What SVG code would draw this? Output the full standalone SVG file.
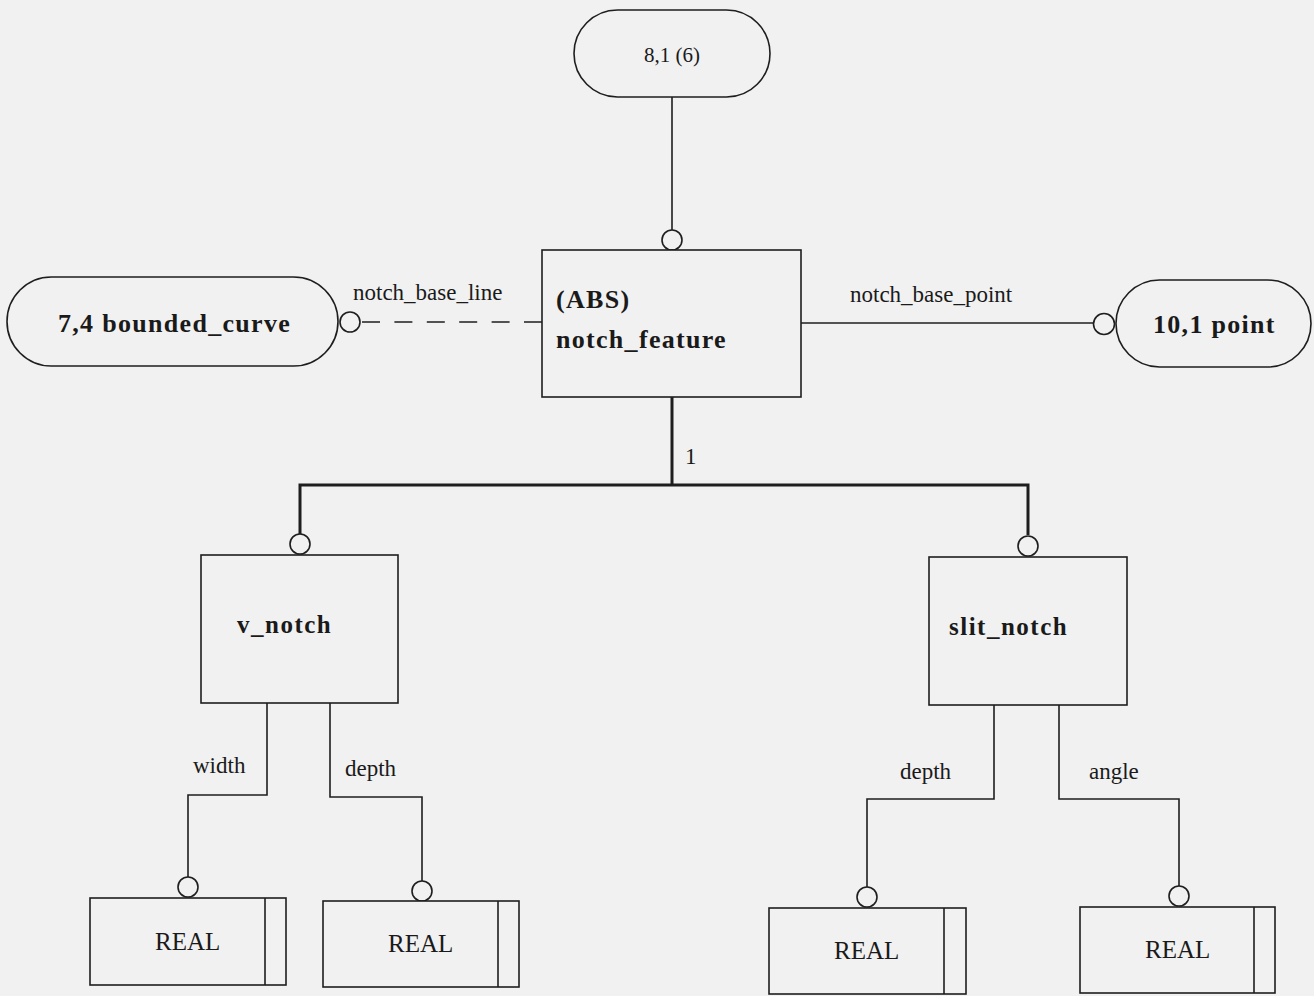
<svg xmlns="http://www.w3.org/2000/svg" width="1314" height="996" viewBox="0 0 1314 996">
  <style>
    .bg { fill: #f1f1f1; }
    .box { fill: #f1f1f1; stroke: #1e1e1e; stroke-width: 1.6; }
    .ln { fill: none; stroke: #1e1e1e; stroke-width: 1.6; }
    .thick { fill: none; stroke: #1e1e1e; stroke-width: 3; }
    .dash { fill: none; stroke: #1e1e1e; stroke-width: 1.6; stroke-dasharray: 18 14.4; }
    .ring { fill: #f1f1f1; stroke: #1e1e1e; stroke-width: 1.6; }
    .title { font-family: "Liberation Serif", "Times New Roman", serif; font-weight: bold; font-size: 26px; letter-spacing: 1.3px; fill: #1a1a1a; }
    .sub { font-family: "Liberation Serif", "Times New Roman", serif; font-weight: bold; font-size: 25px; letter-spacing: 1.5px; fill: #1a1a1a; }
    .lbl { font-family: "Liberation Serif", "Times New Roman", serif; font-size: 23px; fill: #1a1a1a; }
    .real { font-family: "Liberation Serif", "Times New Roman", serif; font-size: 25px; fill: #1a1a1a; }
  </style>

  <rect class="bg" x="0" y="0" width="1314" height="996"/>

  <!-- connectors -->
  <g id="connectors">
    <!-- supertype reference above notch_feature -->
    <line class="ln" x1="672" y1="97" x2="672" y2="230"/>
    <circle class="ring" cx="672" cy="240" r="10"/>

    <!-- notch_base_line (optional, dashed) -->
    <line class="dash" x1="362" y1="322" x2="542" y2="322"/>
    <circle class="ring" cx="350" cy="322" r="10"/>
    <text class="lbl" x="353" y="300">notch_base_line</text>

    <!-- notch_base_point -->
    <line class="ln" x1="801" y1="323" x2="1094" y2="323"/>
    <circle class="ring" cx="1104" cy="324" r="10.5"/>
    <text class="lbl" x="850" y="302">notch_base_point</text>

    <!-- subtype tree -->
    <path class="thick" d="M672 397 V485 M300 534 V485 H1028 V535"/>
    <text class="lbl" x="685" y="464">1</text>
    <circle class="ring" cx="300" cy="544" r="10"/>
    <circle class="ring" cx="1028" cy="546" r="10"/>

    <!-- v_notch attributes -->
    <path class="ln" d="M267 703 V795 H188 V877"/>
    <circle class="ring" cx="188" cy="887" r="10"/>
    <text class="lbl" x="193" y="773">width</text>
    <path class="ln" d="M330 703 V797 H422 V881"/>
    <circle class="ring" cx="422" cy="891" r="10"/>
    <text class="lbl" x="345" y="776">depth</text>

    <!-- slit_notch attributes -->
    <path class="ln" d="M994 705 V799 H867 V887"/>
    <circle class="ring" cx="867" cy="897" r="10"/>
    <text class="lbl" x="900" y="779">depth</text>
    <path class="ln" d="M1059 705 V799 H1179 V886"/>
    <circle class="ring" cx="1179" cy="896" r="10"/>
    <text class="lbl" x="1089" y="779">angle</text>
  </g>

  <!-- nodes -->
  <g id="node-8-1">
    <rect class="box" x="574" y="10" width="196" height="87" rx="43.5" ry="43.5"/>
    <text class="lbl" x="672" y="62" text-anchor="middle" style="font-size:21px">8,1 (6)</text>
  </g>

  <g id="node-bounded-curve">
    <rect class="box" x="7" y="277" width="331" height="89" rx="44.5" ry="44.5"/>
    <text class="title" x="58" y="332">7,4 bounded_curve</text>
  </g>

  <g id="node-notch-feature">
    <rect class="box" x="542" y="250" width="259" height="147"/>
    <text class="title" x="556" y="308">(ABS)</text>
    <text class="title" x="556" y="348">notch_feature</text>
  </g>

  <g id="node-point">
    <rect class="box" x="1116" y="280" width="195" height="87" rx="43.5" ry="43.5"/>
    <text class="title" x="1153" y="333">10,1 point</text>
  </g>

  <g id="node-v-notch">
    <rect class="box" x="201" y="555" width="197" height="148"/>
    <text class="sub" x="237" y="633">v_notch</text>
  </g>

  <g id="node-slit-notch">
    <rect class="box" x="929" y="557" width="198" height="148"/>
    <text class="sub" x="949" y="635">slit_notch</text>
  </g>

  <g id="node-real-width">
    <rect class="box" x="90" y="898" width="196" height="87"/>
    <line class="ln" x1="265" y1="898" x2="265" y2="985"/>
    <text class="real" x="155" y="950">REAL</text>
  </g>

  <g id="node-real-vdepth">
    <rect class="box" x="323" y="901" width="196" height="86"/>
    <line class="ln" x1="498" y1="901" x2="498" y2="987"/>
    <text class="real" x="388" y="952">REAL</text>
  </g>

  <g id="node-real-sdepth">
    <rect class="box" x="769" y="908" width="197" height="86"/>
    <line class="ln" x1="944" y1="908" x2="944" y2="994"/>
    <text class="real" x="834" y="959">REAL</text>
  </g>

  <g id="node-real-angle">
    <rect class="box" x="1080" y="907" width="195" height="86"/>
    <line class="ln" x1="1254" y1="907" x2="1254" y2="993"/>
    <text class="real" x="1145" y="958">REAL</text>
  </g>
</svg>
